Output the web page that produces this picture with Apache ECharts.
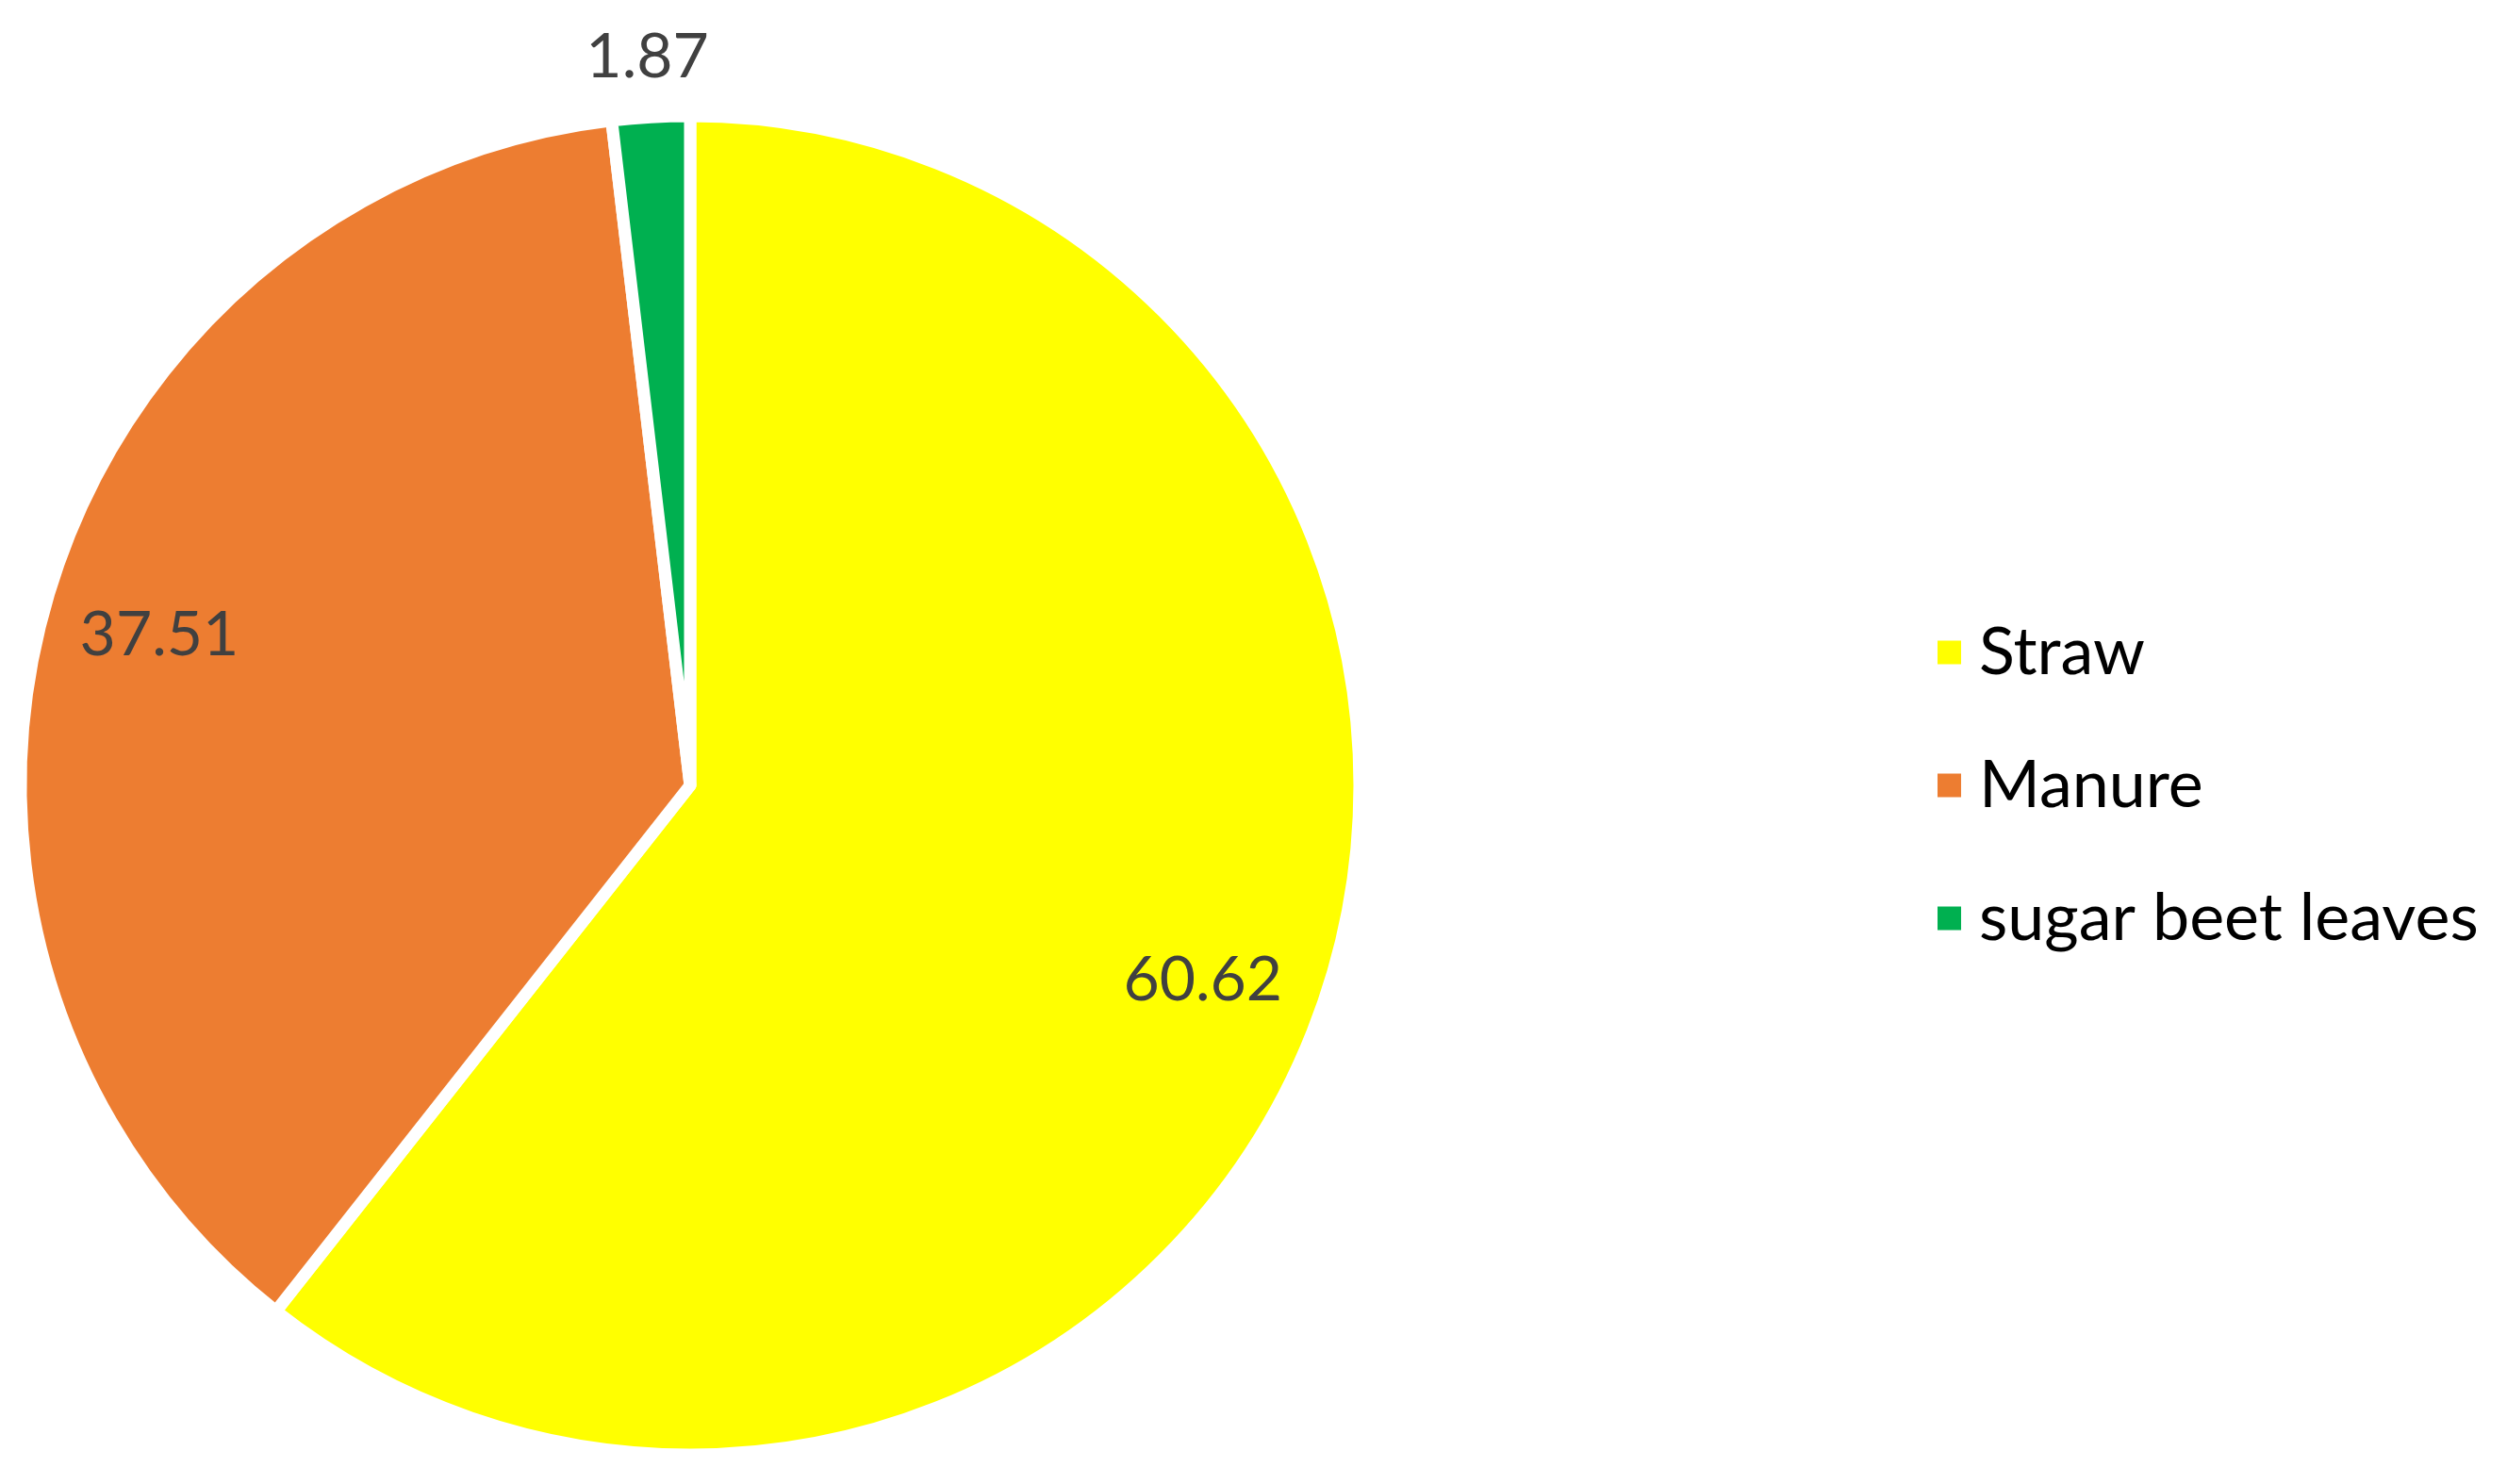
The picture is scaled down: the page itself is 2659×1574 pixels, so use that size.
<!DOCTYPE html>
<html>
<head>
<meta charset="utf-8">
<script src="https://cdn.jsdelivr.net/npm/echarts@6/dist/echarts.min.js"></script>
<style>
html,body{margin:0;padding:0;background:#fff;}
#chart{width:2659px;height:1574px;}
</style>
</head>
<body>
<div id="chart"></div>
<script>
const categories = ['Straw', 'Manure', 'sugar beet leaves'];
const values = [60.62, 37.51, 1.87];
const colors = ['#FFFF00', '#ED7D31', '#00B050'];
const insideLabel = [true, true, false];
const labelNudge = [[-9, 15], [0, 0], [0, 0]];

const FONT = 'Lato';
const cx = 732, cy = 833, R = 710;

const chart = echarts.init(document.getElementById('chart'));

const mainData = categories.map((c, i) => ({ name: c, value: values[i], itemStyle: { color: colors[i] } }));
const labelStyle = { color: '#404040', fontFamily: FONT, fontSize: 66 };

const innerLabelData = categories.map((c, i) => ({
  name: c, value: values[i],
  label: Object.assign({ show: insideLabel[i], position: 'inside', formatter: '{c}', offset: labelNudge[i] }, labelStyle)
}));
const outerLabelData = categories.map((c, i) => ({
  name: c, value: values[i],
  label: Object.assign({ show: !insideLabel[i], position: 'inside', formatter: '{c}', offset: labelNudge[i] }, labelStyle)
}));

const transparentItem = { color: 'rgba(0,0,0,0)', borderWidth: 0 };

chart.setOption({
  animation: false,
  backgroundColor: '#ffffff',
  legend: {
    orient: 'vertical',
    left: 2048,
    top: 652,
    data: categories,
    icon: 'rect',
    itemWidth: 27,
    itemHeight: 27,
    itemGap: 71,
    textStyle: { fontFamily: FONT, fontSize: 70, color: '#000000', lineHeight: 70, padding: [0, 0, 0, 13] }
  },
  series: [
    {
      type: 'pie',
      center: [cx, cy],
      radius: [0, R],
      startAngle: 90,
      clockwise: true,
      silent: true,
      label: { show: false },
      labelLine: { show: false },
      itemStyle: { borderColor: '#ffffff', borderWidth: 13 },
      emphasis: { disabled: true },
      data: mainData
    },
    {
      type: 'pie',
      center: [cx, cy],
      radius: [454, R],
      startAngle: 90,
      clockwise: true,
      silent: true,
      legendHoverLink: false,
      itemStyle: transparentItem,
      labelLine: { show: false },
      emphasis: { disabled: true },
      data: innerLabelData
    },
    {
      type: 'pie',
      center: [cx, cy],
      radius: [R, 832],
      startAngle: 90,
      clockwise: true,
      silent: true,
      legendHoverLink: false,
      itemStyle: transparentItem,
      labelLine: { show: false },
      emphasis: { disabled: true },
      data: outerLabelData
    }
  ]
});
</script>
</body>
</html>
